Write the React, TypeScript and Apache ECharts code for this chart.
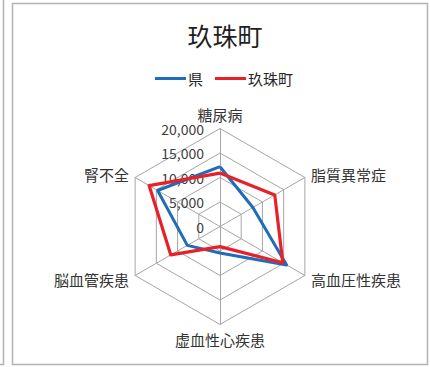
import React, { useEffect, useRef } from "react";
import * as echarts from "echarts";

const title = "玖珠町";
// clockwise from top, as read in the reference
const indicators = ["糖尿病", "脂質異常症", "高血圧性疾患", "虚血性心疾患", "脳血管疾患", "腎不全"];
const seriesNames = ["県", "玖珠町"];
const prefValues = [12200, 7750, 15700, 5400, 7700, 14700];
const townValues = [10900, 12900, 14800, 4100, 11600, 16700];
const axisMax = 20000;

const FONT = "'Noto Sans CJK JP', 'Noto Sans', sans-serif";

// ECharts radar runs counter-clockwise: reorder so the picture reads clockwise
const order = [0, 5, 4, 3, 2, 1];
const reorder = <T,>(arr: T[]) => order.map((i) => arr[i]);

export default function App() {
  const ref = useRef<HTMLDivElement>(null);
  useEffect(() => {
    document.body.style.margin = "0";
    const chart = echarts.init(ref.current!, null, { renderer: "svg" });
    chart.setOption({
      animation: false,
      backgroundColor: "#ffffff",
      title: {
        text: title,
        left: 220,
        textAlign: "center",
        top: 17,
        textStyle: { fontFamily: FONT, fontSize: 25, fontWeight: "normal", color: "#1f1f1f" },
      },
      legend: {
        data: seriesNames,
        left: 150,
        top: 66,
        icon: "rect",
        itemWidth: 31,
        itemHeight: 3,
        itemGap: 12,
        textStyle: { fontFamily: FONT, fontSize: 15, color: "#262626", padding: [0, 0, 0, -3] },
      },
      radar: {
        center: [220, 226.5],
        radius: 98,
        startAngle: 90,
        shape: "polygon",
        splitNumber: 4,
        nameGap: 7,
        axisName: { fontFamily: FONT, fontSize: 15, color: "#333333" },
        axisLine: { lineStyle: { color: "#a6a6a6", width: 1 } },
        splitLine: { lineStyle: { color: "#a6a6a6", width: 1 } },
        splitArea: { show: false },
        axisTick: { show: false },
        axisLabel: { show: false },
        indicator: reorder(indicators).map((n, i) =>
          i === 0
            ? {
                name: n,
                min: 0,
                max: axisMax,
                axisLabel: {
                  show: true,
                  fontFamily: FONT,
                  fontSize: 14,
                  color: "#404040",
                  margin: 16,
                  formatter: (v: number) => v.toLocaleString("en-US"),
                },
              }
            : { name: n, min: 0, max: axisMax }
        ),
      },
      series: [
        {
          type: "radar",
          symbol: "none",
          data: [
            { name: seriesNames[0], value: reorder(prefValues), lineStyle: { color: "#1f6cb8", width: 3 }, itemStyle: { color: "#1f6cb8" } },
            { name: seriesNames[1], value: reorder(townValues), lineStyle: { color: "#e8202a", width: 3.2 }, itemStyle: { color: "#e8202a" } },
          ],
        },
      ],
      graphic: [
        { type: "rect", shape: { x: 12.5, y: 3.5, width: 415, height: 361 }, style: { fill: "none", stroke: "#b3b3b3", lineWidth: 1.5 } },
        { type: "polyline", shape: { points: [[3.5, 0], [3.5, 364.5], [0, 364.5]] }, style: { fill: "none", stroke: "#b3b3b3", lineWidth: 1.5 } },
      ],
    });
    return () => chart.dispose();
  }, []);
  return <div ref={ref} style={{ width: 430, height: 367, position: "absolute", left: 0, top: 0 }} />;
}
